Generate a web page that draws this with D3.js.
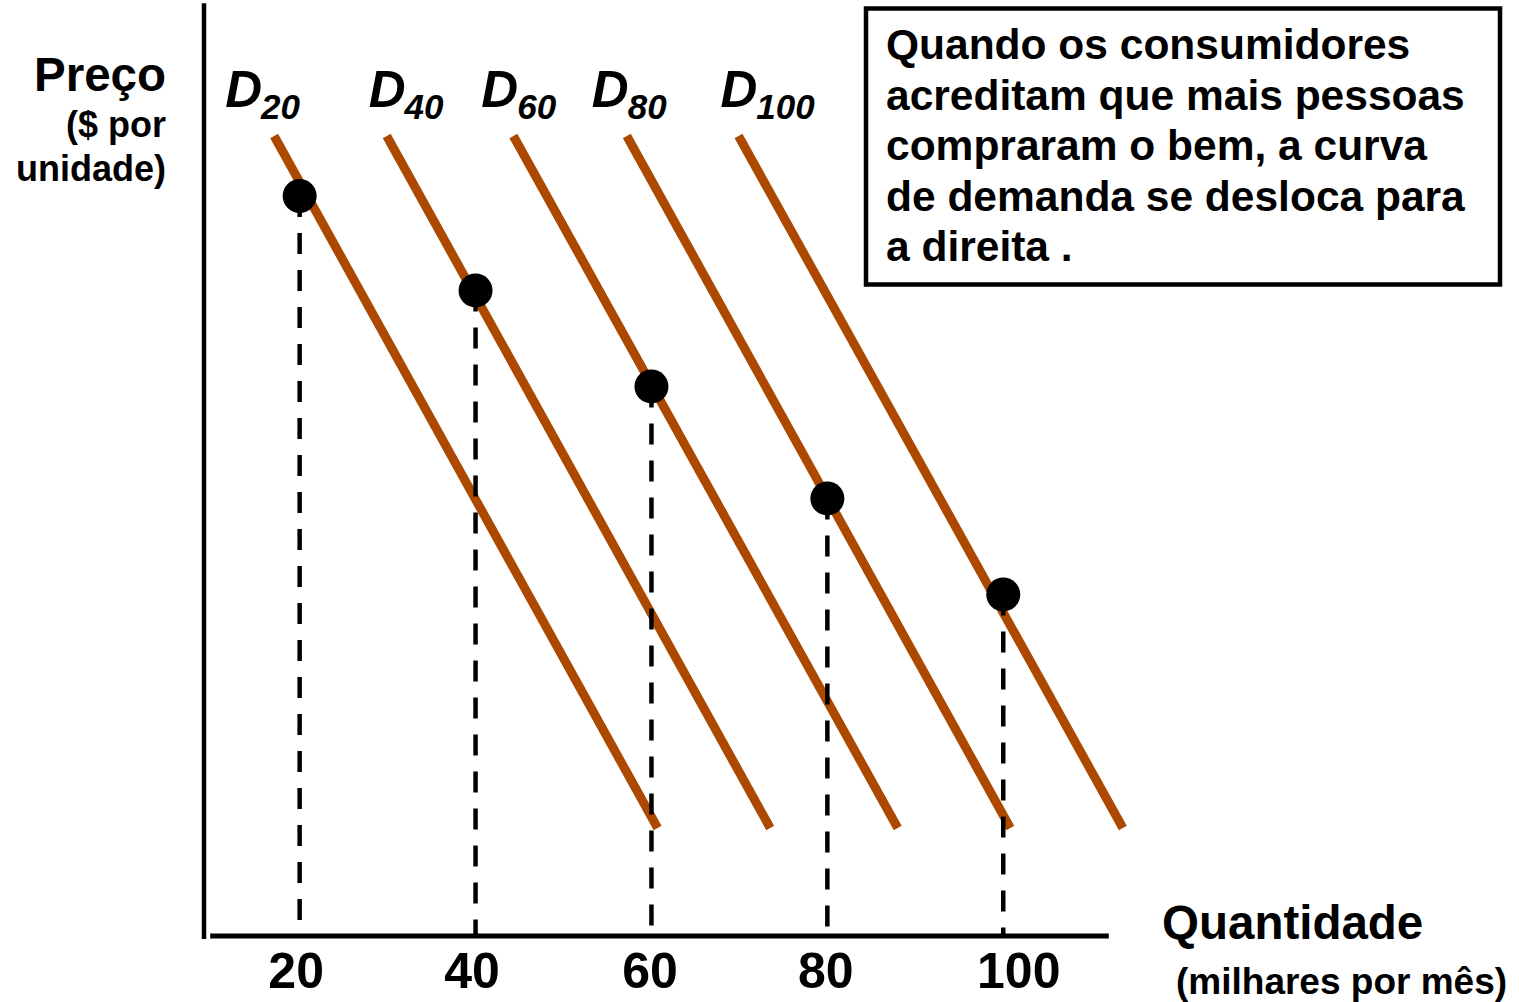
<!DOCTYPE html>
<html lang="pt">
<head>
<meta charset="utf-8">
<title>Deslocamento da curva de demanda</title>
<script src="https://cdn.jsdelivr.net/npm/d3@7"></script>
<style>
  html, body { margin: 0; padding: 0; background: #fff; }
  svg { display: block; }
  text { font-family: "Liberation Sans", Arial, sans-serif; font-weight: bold; fill: #000; }
</style>
</head>
<body>
<svg id="chart" width="1519" height="1002"></svg>
<script>
// Quantities (thousands per month) at which each demand curve is observed
const quantities = [20, 40, 60, 80, 100];
// Subscripts of the demand curves D20 ... D100
const curveNames = ["20", "40", "60", "80", "100"];
// Each demand curve is a straight segment between a high-price and a low-price end
const curveTopQ = [17.1, 29.9, 44.3, 57.2, 69.9];
const curveBottomQ = [60.7, 73.5, 88.0, 100.8, 113.6];
const curveTopPrice = 10;
const curveBottomPrice = 1.35;
// Price paid at each highlighted quantity
const pointPrices = [9.25, 8.07, 6.87, 5.47, 4.27];
// Explanatory note
const noteLines = [
  "Quando os consumidores",
  "acreditam que mais pessoas",
  "compraram o bem, a curva",
  "de demanda se desloca para",
  "a direita ."
];

const svg = d3.select("#chart");

const x = d3.scaleLinear().domain([10, 112]).range([211.7, 1108.8]);
const y = d3.scaleLinear().domain([0, 10]).range([936, 136]);

const curveColor = "#AD4800";

// Axes: plain lines, no tick marks
svg.append("line")
  .attr("x1", 204).attr("x2", 204)
  .attr("y1", y(11.66)).attr("y2", 939)
  .attr("stroke", "#000").attr("stroke-width", 4.5);

svg.append("line")
  .attr("x1", x.range()[0] - 1.5).attr("x2", x.range()[1])
  .attr("y1", y(0)).attr("y2", y(0))
  .attr("stroke", "#000").attr("stroke-width", 5);

const xAxis = svg.append("g")
  .attr("transform", `translate(0,${y(0)})`)
  .call(d3.axisBottom(x).tickValues(quantities).tickSize(0).tickPadding(16).tickFormat(d3.format("d")));
xAxis.select(".domain").remove();
xAxis.selectAll("text")
  .attr("font-family", "Liberation Sans, Arial, sans-serif")
  .attr("font-weight", "bold")
  .attr("font-size", 50)
  .attr("fill", "#000")
  .attr("dy", "0.72em")
  .attr("dx", (d, i) => [-4, -4, -2, -2, 15][i]);

// Demand curves
const curves = quantities.map((q, i) => ({
  name: curveNames[i],
  top: [curveTopQ[i], curveTopPrice],
  bottom: [curveBottomQ[i], curveBottomPrice]
}));

svg.append("g").selectAll("line")
  .data(curves)
  .join("line")
  .attr("x1", d => x(d.top[0])).attr("y1", d => y(d.top[1]))
  .attr("x2", d => x(d.bottom[0])).attr("y2", d => y(d.bottom[1]))
  .attr("stroke", curveColor)
  .attr("stroke-width", 9);

// Dashed drop lines from each point to the quantity axis
svg.append("g").selectAll("line")
  .data(quantities)
  .join("line")
  .attr("x1", d => x(d)).attr("x2", d => x(d))
  .attr("y1", (d, i) => y(pointPrices[i]))
  .attr("y2", y(0))
  .attr("stroke", "#000")
  .attr("stroke-width", 4.5)
  .attr("stroke-dasharray", "21,16");

// Points
svg.append("g").selectAll("circle")
  .data(quantities)
  .join("circle")
  .attr("cx", d => x(d))
  .attr("cy", (d, i) => y(pointPrices[i]))
  .attr("r", 17)
  .attr("fill", "#000");

// Curve labels D with subscript
const labelShift = [-49, -18, -32, -35, -18];
const labels = svg.append("g").selectAll("text")
  .data(curves)
  .join("text")
  .attr("x", (d, i) => x(d.top[0]) + labelShift[i])
  .attr("y", 107)
  .attr("font-style", "italic")
  .attr("font-size", 51);
labels.append("tspan").text("D");
labels.append("tspan")
  .attr("font-size", 35)
  .attr("dx", -1)
  .attr("dy", 12)
  .text(d => d.name);

// Axis titles
const yTitle = svg.append("g").attr("text-anchor", "end");
yTitle.append("text").attr("x", 166).attr("y", 91).attr("font-size", 47.5).text("Preço");
yTitle.append("text").attr("x", 166).attr("y", 137).attr("font-size", 36).text("($ por");
yTitle.append("text").attr("x", 166).attr("y", 181).attr("font-size", 36).text("unidade)");

svg.append("text").attr("x", 1162).attr("y", 939).attr("font-size", 47.5).text("Quantidade");
svg.append("text").attr("x", 1176).attr("y", 994).attr("font-size", 37).text("(milhares por mês)");

// Note box
const note = svg.append("g");
note.append("rect")
  .attr("x", 866).attr("y", 8.5)
  .attr("width", 634).attr("height", 276)
  .attr("fill", "#fff")
  .attr("stroke", "#000")
  .attr("stroke-width", 4.5);
note.selectAll("text")
  .data(noteLines)
  .join("text")
  .attr("x", 886)
  .attr("y", (d, i) => 59 + i * 50.5)
  .attr("font-size", 42.5)
  .text(d => d);
</script>
</body>
</html>
